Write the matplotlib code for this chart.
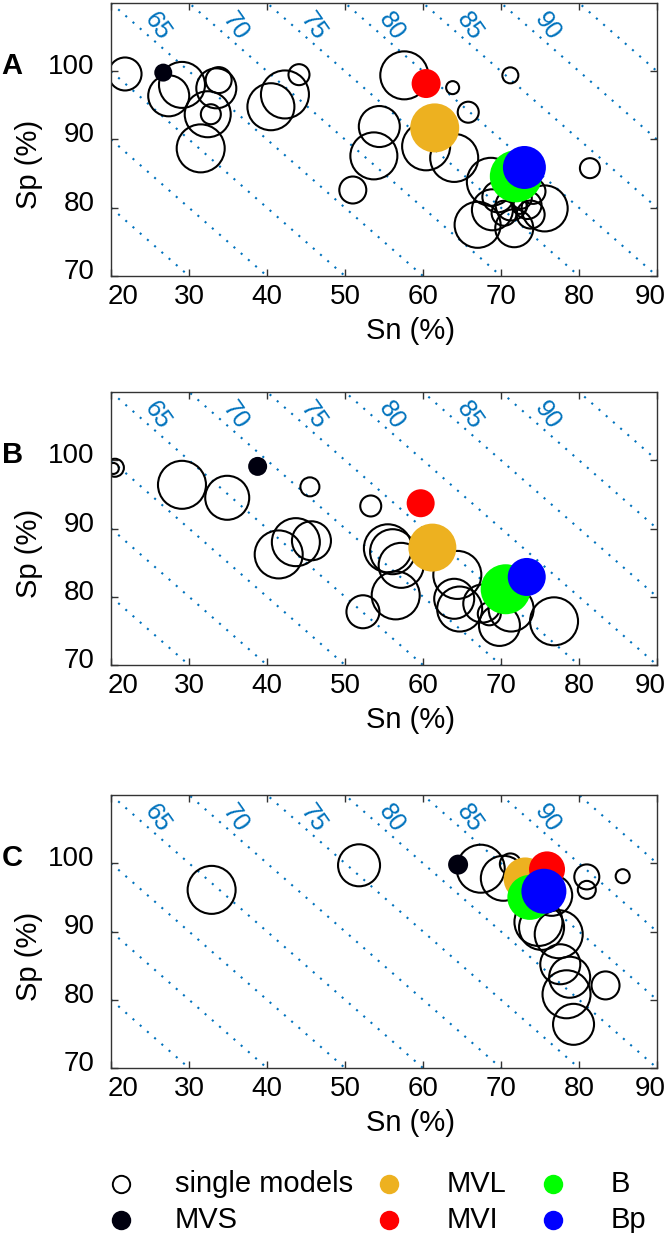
import numpy as np
import matplotlib
matplotlib.use('Agg')
import matplotlib.pyplot as plt
from matplotlib.lines import Line2D
from matplotlib.transforms import ScaledTranslation

plt.rcParams['font.family'] = ['Liberation Sans', 'DejaVu Sans']

# Panel A - single models: Sn, Sp, bubble diameter (px)
sn_a = [21.8, 27.4, 29.1, 33.8, 33.5, 32.4, 32.8, 31.5, 40.5, 42.3, 44.1, 57.6,
        63.8, 65.8, 71.2, 54.4, 53.7, 51.0, 60.4, 64.0, 81.4,
        68.7, 67.0, 68.9, 75.6, 71.7, 71.3, 73.4, 73.8, 70.4, 72.6, 72.4, 69.6, 74.1]
sp_a = [99.6, 96.4, 98.0, 98.7, 97.5, 93.7, 93.7, 88.7, 94.8, 96.6, 99.5, 99.4,
        97.6, 94.0, 99.4, 91.9, 87.6, 82.6, 89.0, 87.3, 85.8,
        83.8, 77.5, 79.7, 79.9, 77.0, 80.4, 80.4, 79.0, 79.2, 81.4, 80.2, 81.6, 82.4]
d_a = [35, 43, 48, 28, 42, 48, 22, 50, 49, 50, 23, 50,
       15, 23, 18, 43, 49, 29, 50, 50, 22,
       50, 48, 43, 48, 40, 33, 30, 30, 27, 23, 17, 33, 27]

# Panel B
sn_b = [20.5, 20.3, 29.1, 34.9, 45.5, 53.3, 41.5, 43.7, 45.7, 55.5, 56.1, 57.2,
        56.5, 52.3, 64.4, 64.0, 64.7, 67.6, 69.8, 71.3, 76.8, 68.5]
sp_b = [98.9, 98.8, 96.4, 94.5, 96.1, 93.3, 86.2, 88.0, 88.2, 87.1, 86.6, 84.6,
        80.2, 77.8, 83.2, 79.7, 78.2, 79.0, 75.8, 78.2, 76.4, 77.5]
d_b = [20, 13, 50, 46, 21, 23, 50, 50, 41, 50, 47, 47,
       50, 35, 50, 42, 47, 40, 43, 47, 50, 25]

# Panel C
sn_c = [32.9, 51.8, 67.4, 70.3, 71.2, 81.0, 81.0, 85.6, 76.5, 74.8, 75.2, 77.4,
        77.6, 78.8, 78.4, 83.4, 79.3]
sp_c = [96.1, 99.7, 99.2, 97.8, 99.9, 98.0, 96.1, 98.1, 95.3, 91.4, 90.6, 89.6,
        85.2, 83.3, 80.8, 82.1, 76.4]
d_c = [50, 44, 50, 47, 23, 27, 20, 16, 43, 50, 47, 50,
       42, 43, 50, 30, 43]

# combined models: order MVS, MVL, MVI, B, Bp
combo_names = ['MVS', 'MVL', 'MVI', 'B', 'Bp']
combo_colors = ['#00000f', '#EDB120', '#FF0000', '#00FF00', '#0000FF']
combo_sn_a = [26.7, 61.5, 60.4, 71.9, 73.0]
combo_sp_a = [99.8, 91.7, 98.2, 84.6, 85.9]
combo_d_a = [18, 49, 29, 52, 43]
combo_sn_b = [38.8, 61.2, 59.7, 70.6, 73.3]
combo_sp_b = [99.1, 87.2, 93.7, 81.1, 82.9]
combo_d_b = [19, 48, 28, 50, 38]
combo_sn_c = [64.5, 73.1, 75.9, 73.7, 75.5]
combo_sp_c = [99.8, 97.7, 99.1, 95.0, 95.9]
combo_d_c = [20, 43, 36, 45, 45]

# iso lines of (Sn + Sp) / 2
iso_levels = np.arange(45, 101, 5)
iso_labels = [65, 70, 75, 80, 85, 90]
iso_color = '#0072BD'

W, H = 666, 1233
fig = plt.figure(figsize=(W / 100, H / 100), dpi=100)


def d2s(d):
    # diameter in pixels -> scatter size in points^2
    return (np.asarray(d, dtype=float) * 0.72) ** 2


def panel(top, letter, sn, sp, d, csn, csp, cd):
    ax = fig.add_axes([111 / W, 1 - (top + 273) / H, 546 / W, 273 / H])
    ax.set_xlim(20, 90)
    ax.set_ylim(70, 110)
    x = np.array([20, 90])
    for lv in iso_levels:
        ax.plot(x, 2 * lv - x, ls=(0, (1, 3.6)), lw=1.5, color=iso_color, zorder=1)
    for lv in iso_labels:
        ax.text(2 * lv - 104, 106.6, str(lv), color=iso_color, fontsize=18,
                rotation=-55, ha='center', va='center', zorder=1)
    ax.scatter(sn, sp, s=d2s(np.asarray(d) - 2), facecolors='none',
               edgecolors='black', linewidths=1.5, zorder=2)
    for i in range(len(combo_names)):
        ax.scatter([csn[i]], [csp[i]], s=d2s([cd[i]]), c=combo_colors[i],
                   edgecolors='none', zorder=3 + i)
    ax.set_xticks(range(20, 91, 10))
    ax.set_yticks([70, 80, 90, 100])
    ax.tick_params(direction='in', top=True, right=True, length=5, width=1,
                   color='#333333', labelsize=20)
    ax.tick_params(axis='x', pad=6)
    ax.tick_params(axis='y', pad=12)
    for sp_ in ax.spines.values():
        sp_.set_color('#333333')
        sp_.set_linewidth(1.0)
    up = ScaledTranslation(0, 0.07, fig.dpi_scale_trans)
    for lbl in ax.get_yticklabels():
        lbl.set_transform(lbl.get_transform() + up)
    xl = ax.get_xticklabels()
    xl[0].set_transform(xl[0].get_transform() + ScaledTranslation(0.12, 0, fig.dpi_scale_trans))
    xl[-1].set_transform(xl[-1].get_transform() + ScaledTranslation(-0.07, 0, fig.dpi_scale_trans))
    ax.set_xlabel('Sn (%)', fontsize=21)
    ax.xaxis.set_label_coords(0.549, -0.203)
    ax.xaxis.label.set_va('center')
    ax.set_ylabel('Sp (%)', fontsize=21)
    ax.yaxis.set_label_coords(-0.150, 0.41)
    ax.yaxis.label.set_va('center')
    ax.text(-0.181, 0.77, letter, transform=ax.transAxes, fontsize=21,
            fontweight='bold', ha='center', va='center')
    return ax


panel(3, 'A', sn_a, sp_a, d_a, combo_sn_a, combo_sp_a, combo_d_a)
panel(392, 'B', sn_b, sp_b, d_b, combo_sn_b, combo_sp_b, combo_d_b)
panel(795, 'C', sn_c, sp_c, d_c, combo_sn_c, combo_sp_c, combo_d_c)

# legend (3 columns x 2 rows)
leg_labels = ['single models', 'MVS', 'MVL', 'MVI', 'B', 'Bp']
leg_colors = ['none'] + combo_colors
col_marker_x = [121, 389, 553]
col_text_x = [175, 447, 611]
row_y = [1184, 1220]
for k, lab in enumerate(leg_labels):
    c, r = k // 2, k % 2
    mx, my = col_marker_x[c] / W, 1 - row_y[r] / H
    fig.add_artist(Line2D([mx], [my], transform=fig.transFigure, marker='o',
                          ms=14 if k else 12.5, mfc=leg_colors[k],
                          mec='black' if k == 0 else leg_colors[k],
                          mew=1.4 if k == 0 else 0, ls='none'))
    fig.text(col_text_x[c] / W, my, lab, fontsize=21, va='center', ha='left')

fig.savefig('out.png', dpi=100)
